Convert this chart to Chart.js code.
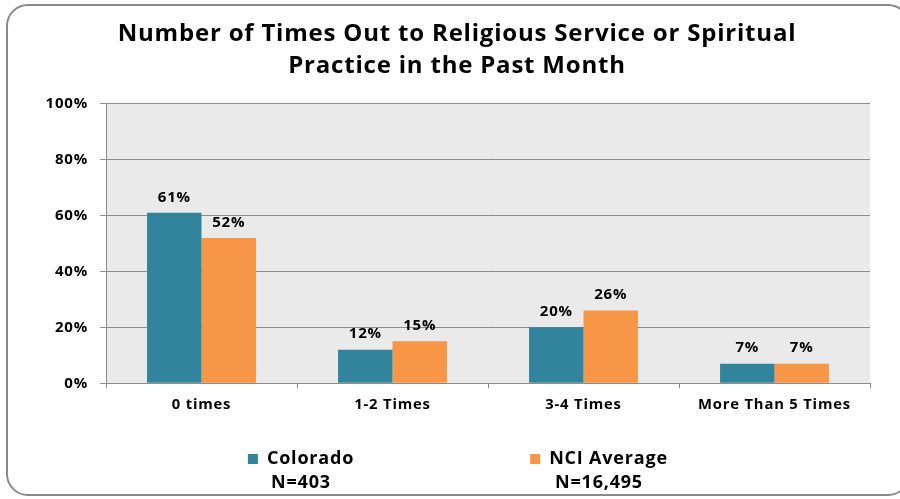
<!DOCTYPE html>
<html>
<head>
<meta charset="utf-8">
<script src="https://cdn.jsdelivr.net/npm/chart.js@4.4.1/dist/chart.umd.min.js"></script>
<style>
  html, body { margin: 0; padding: 0; background: #fff; }
  #wrap { position: relative; width: 900px; height: 499px; }
  #frame {
    position: absolute; left: 6px; top: 4px; width: 900px; height: 488px;
    border: 2px solid #8a8a8a; border-radius: 22px; pointer-events: none;
  }
  canvas { position: absolute; left: 0; top: 0; }
</style>
</head>
<body>
<div id="wrap">
  <canvas id="graph" width="900" height="499"></canvas>
  <div id="frame"></div>
</div>
<script>
const categories = ["0 times", "1-2 Times", "3-4 Times", "More Than 5 Times"];
const seriesNames = ["Colorado", "NCI Average"];
const seriesN = ["N=403", "N=16,495"];
const colorado = [61, 12, 20, 7];
const nciAverage = [52, 15, 26, 7];
const yTicks = [0, 20, 40, 60, 80, 100];

const teal = "#31849B";
const orange = "#F79646";
const font = "'Open Sans', sans-serif";
const spacing = "0.8px";

// slightly wider lettering for every text on the canvas
const wideText = {
  id: "wideText",
  beforeUpdate(chart) { chart.ctx.letterSpacing = spacing; },
  beforeDraw(chart) { chart.ctx.letterSpacing = spacing; }
};

// grey plot background
const plotBg = {
  id: "plotBg",
  beforeDraw(chart) {
    const { ctx, chartArea: a } = chart;
    ctx.save();
    ctx.fillStyle = "#EAEAEA";
    ctx.fillRect(a.left, a.top, a.right - a.left, a.bottom - a.top);
    ctx.restore();
  }
};

// percentage labels over each bar
const valueLabels = {
  id: "valueLabels",
  afterDatasetsDraw(chart) {
    const ctx = chart.ctx;
    ctx.save();
    ctx.font = "bold 15px " + font;
    ctx.fillStyle = "#000";
    ctx.textAlign = "center";
    ctx.textBaseline = "bottom";
    chart.data.datasets.forEach((ds, i) => {
      chart.getDatasetMeta(i).data.forEach((bar, j) => {
        ctx.fillText(ds.data[j] + "%", bar.x, bar.y - 8);
      });
    });
    ctx.restore();
  }
};

// legend with sample size under each name
const nLegend = {
  id: "nLegend",
  afterDraw(chart) {
    const ctx = chart.ctx;
    const centers = [301, 599];
    const colors = [teal, orange];
    ctx.save();
    ctx.font = "bold 18px " + font;
    ctx.textBaseline = "middle";
    seriesNames.forEach((name, i) => {
      const w = ctx.measureText(name).width;
      const itemW = 10 + 9 + w;
      const x0 = centers[i] - itemW / 2;
      ctx.fillStyle = colors[i];
      ctx.fillRect(x0, 454, 10, 10);
      ctx.fillStyle = "#000";
      ctx.textAlign = "left";
      ctx.fillText(name, x0 + 19, 459);
      ctx.textAlign = "center";
      ctx.fillText(seriesN[i], centers[i], 483);
    });
    ctx.restore();
  }
};

new Chart(document.getElementById("graph"), {
  type: "bar",
  data: {
    labels: categories,
    datasets: [
      { label: seriesNames[0], data: colorado, backgroundColor: teal, borderWidth: 0 },
      { label: seriesNames[1], data: nciAverage, backgroundColor: orange, borderWidth: 0 }
    ]
  },
  options: {
    responsive: false,
    animation: false,
    layout: { padding: { left: 44, right: 30, top: 0, bottom: 77 } },
    datasets: { bar: { categoryPercentage: 0.57, barPercentage: 1 } },
    plugins: {
      legend: { display: false },
      tooltip: { enabled: false },
      title: {
        display: true,
        text: ["Number of Times Out to Religious Service or Spiritual", "Practice in the Past Month"],
        color: "#000",
        font: { family: font, size: 24, weight: "bold", lineHeight: 1.33 },
        padding: { top: 18, bottom: 22 }
      }
    },
    scales: {
      x: {
        grid: { drawOnChartArea: false, drawTicks: true, tickLength: 5, color: "#8c8c8c" },
        border: { color: "#8c8c8c" },
        ticks: { color: "#000", font: { family: font, size: 14.8, weight: "bold" }, padding: 8 }
      },
      y: {
        min: 0, max: 100,
        afterBuildTicks(scale) { scale.ticks = yTicks.map(v => ({ value: v })); },
        afterFit(scale) { scale.width = 62; },
        grid: { color: "#8c8c8c", tickLength: 6 },
        border: { color: "#8c8c8c" },
        ticks: {
          color: "#000", padding: 12,
          font: { family: font, size: 15, weight: "bold" },
          callback: v => v + "%"
        }
      }
    }
  },
  plugins: [wideText, plotBg, valueLabels, nLegend]
});
</script>
</body>
</html>
